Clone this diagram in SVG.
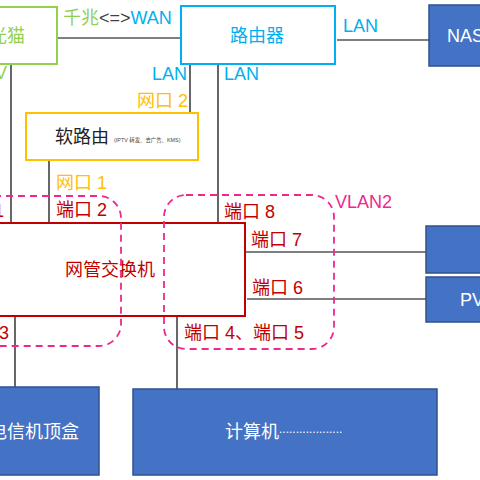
<svg xmlns="http://www.w3.org/2000/svg" width="480" height="480" viewBox="0 0 480 480">
<style>
text{font-family:"Liberation Sans","Noto Sans CJK SC",sans-serif;font-size:18px}
.line{stroke:#000;stroke-width:1.2;fill:none}
.blue{fill:#4472c4;stroke:#2f528f;stroke-width:1.5}
.wt{fill:#fff}
.red{fill:#c00000}
.org{fill:#ffc000}
.cy{fill:#00b0f0}
.grn{fill:#92d050}
.vlan{fill:none;stroke:#f0288c;stroke-width:1.8;stroke-dasharray:7 5}
</style>
<rect width="480" height="480" fill="#fff"/>
<g id="connectors">
<line class="line" x1="57" y1="38" x2="181" y2="38"/>
<line class="line" x1="337" y1="40" x2="429" y2="40"/>
<line class="line" x1="190" y1="64" x2="190" y2="113"/>
<line class="line" x1="218" y1="64" x2="218" y2="224"/>
<line class="line" x1="11" y1="64" x2="11" y2="223"/>
<line class="line" x1="49" y1="160" x2="49" y2="223"/>
<line class="line" x1="245" y1="252" x2="426" y2="252"/>
<line class="line" x1="247" y1="299" x2="426" y2="299"/>
<line class="line" x1="15" y1="316" x2="15" y2="387"/>
<line class="line" x1="177" y1="317" x2="177" y2="389"/>
<text x="63" y="24"><tspan class="grn">千兆</tspan><tspan fill="#404040">&lt;=&gt;</tspan><tspan class="cy">WAN</tspan></text>
<text class="cy" x="343" y="32" font-size="17">LAN</text>
<text class="cy" x="152" y="80" font-size="17">LAN</text>
<text class="cy" x="224" y="80" font-size="17">LAN</text>
<text class="grn" x="7" y="79" text-anchor="end">IPTV</text>
<text class="org" x="137" y="107">网口 2</text>
<text class="org" x="56" y="189">网口 1</text>
<text class="red" x="4" y="217" text-anchor="end">端口 1</text>
<text class="red" x="56" y="216">端口 2</text>
<text class="red" x="224" y="218">端口 8</text>
<text class="red" x="251" y="246">端口 7</text>
<text class="red" x="252" y="294">端口 6</text>
<text class="red" x="9" y="339" text-anchor="end">端口 3</text>
<text class="red" x="184" y="339">端口 4、端口 5</text>
<text x="335" y="208" fill="#f0288c">VLAN2</text>
</g>
<g id="guangmao">
<rect x="-40" y="7" width="97" height="57" fill="#fff" stroke="#92d050" stroke-width="2"/>
<text class="grn" x="7" y="42" text-anchor="middle">光猫</text>
</g>
<g id="router">
<rect x="181" y="6" width="154" height="58" fill="#fff" stroke="#00b0f0" stroke-width="2"/>
<text class="cy" x="257" y="42" text-anchor="middle" font-size="19">路由器</text>
</g>
<g id="nas">
<rect class="blue" x="429" y="5" width="60" height="61"/>
<text class="wt" x="447" y="42">NAS</text>
</g>
<g id="softrouter">
<rect x="26" y="113" width="172" height="47" fill="#fff" stroke="#ffc000" stroke-width="2"/>
<text x="55" y="143" font-size="19" fill="#222">软路由</text>
<text transform="translate(114 142) scale(0.3)" font-size="15" fill="#444">(IPTV 转发、去广告、KMS)</text>
</g>
<g id="switch">
<rect x="-20" y="223" width="265" height="93" fill="none" stroke="#c00000" stroke-width="2"/>
<text class="red" x="110" y="276" text-anchor="middle">网管交换机</text>
</g>
<g id="vlan1">
<rect class="vlan" x="-40" y="196" width="161" height="150" rx="22"/>
</g>
<g id="vlan2">
<rect class="vlan" x="164" y="195" width="170" height="154" rx="22"/>
</g>
<g id="box7">
<rect class="blue" x="426" y="226" width="60" height="47"/>
</g>
<g id="pve">
<rect class="blue" x="426" y="277" width="60" height="45"/>
<text class="wt" x="460" y="306">PVE</text>
</g>
<g id="iptvbox">
<rect class="blue" x="-40" y="387" width="139" height="88"/>
<text class="wt" x="79" y="438" text-anchor="end">电信机顶盒</text>
</g>
<g id="pc">
<rect class="blue" x="133" y="389" width="304" height="86"/>
<text class="wt" x="225" y="438">计算机<tspan font-size="12" dy="-5">...................</tspan></text>
</g>
</svg>
